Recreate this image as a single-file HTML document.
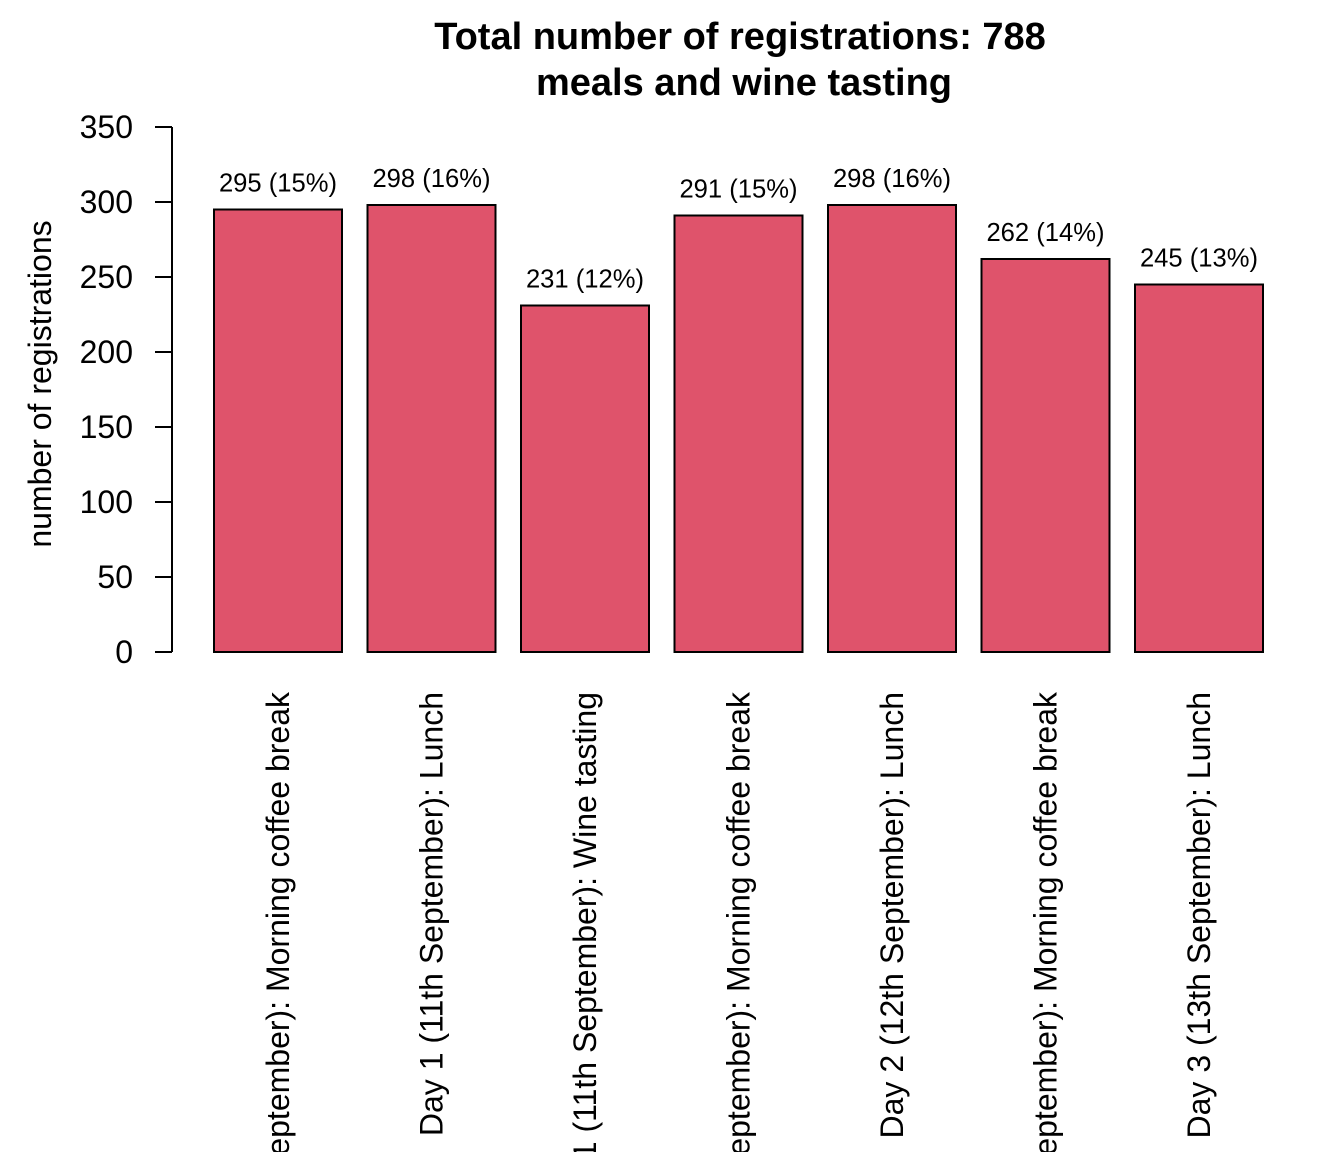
<!DOCTYPE html>
<html><head><meta charset="utf-8"><style>
html,body{margin:0;background:#fff;width:1344px;height:1152px;overflow:hidden;}
svg{display:block;font-family:"Liberation Sans",Arial,sans-serif;}
</style></head><body>
<svg id="chart" width="1344" height="1152" viewBox="0 0 1344 1152" xmlns="http://www.w3.org/2000/svg">
<text x="740" y="49" text-anchor="middle" font-size="38" font-weight="bold">Total number of registrations: 788</text>
<text x="744" y="95" text-anchor="middle" font-size="38" font-weight="bold">meals and wine tasting</text>
<text transform="translate(51,384) rotate(-90)" text-anchor="middle" font-size="32">number of registrations</text>
<g id="yaxis"></g>
<g id="bars"></g>
</svg>
<script>
const categories=["Day 1 (11th September): Morning coffee break","Day 1 (11th September): Lunch","Day 1 (11th September): Wine tasting","Day 2 (12th September): Morning coffee break","Day 2 (12th September): Lunch","Day 2 (12th September): Morning coffee break","Day 3 (13th September): Lunch"];
const values=[295,298,231,291,298,262,245];
const valueLabels=["295 (15%)","298 (16%)","231 (12%)","291 (15%)","298 (16%)","262 (14%)","245 (13%)"];
const yTicks=[0,50,100,150,200,250,300,350];
const NS="http://www.w3.org/2000/svg";
function y(v){return 652-v*1.5;}
function x(i){return 214+i*153.5;}
const bw=128;
const ya=document.getElementById('yaxis');
function mk(t,a,p){const e=document.createElementNS(NS,t);for(const k in a)e.setAttribute(k,a[k]);p.appendChild(e);return e;}
const al=mk('line',{x1:172,x2:172,y1:y(0),y2:y(350),stroke:'#000','stroke-width':2},ya);


yTicks.forEach(t=>{
 const l=mk('line',{x1:155,x2:172,y1:y(t),y2:y(t),stroke:'#000','stroke-width':2},ya);
 
 
 const tx=mk('text',{x:133,y:y(t)+11,'text-anchor':'end','font-size':32},ya);
 tx.textContent=t;
 
 
});
const bg=document.getElementById('bars');
values.forEach((v,i)=>{
 const r=mk('rect',{x:x(i),y:y(v),width:bw,height:y(0)-y(v),fill:'#DF536B',stroke:'#000','stroke-width':2},bg);
 
 
 const t=mk('text',{x:x(i)+bw/2,y:y(v)-18,'text-anchor':'middle','font-size':25.6},bg);
 t.textContent=valueLabels[i];
 
 
 const c=mk('text',{transform:'translate('+(x(i)+bw/2+11)+',692) rotate(-90)','text-anchor':'end','font-size':32},bg);
 c.textContent=categories[i];
 
 
});
</script>
</body></html>
